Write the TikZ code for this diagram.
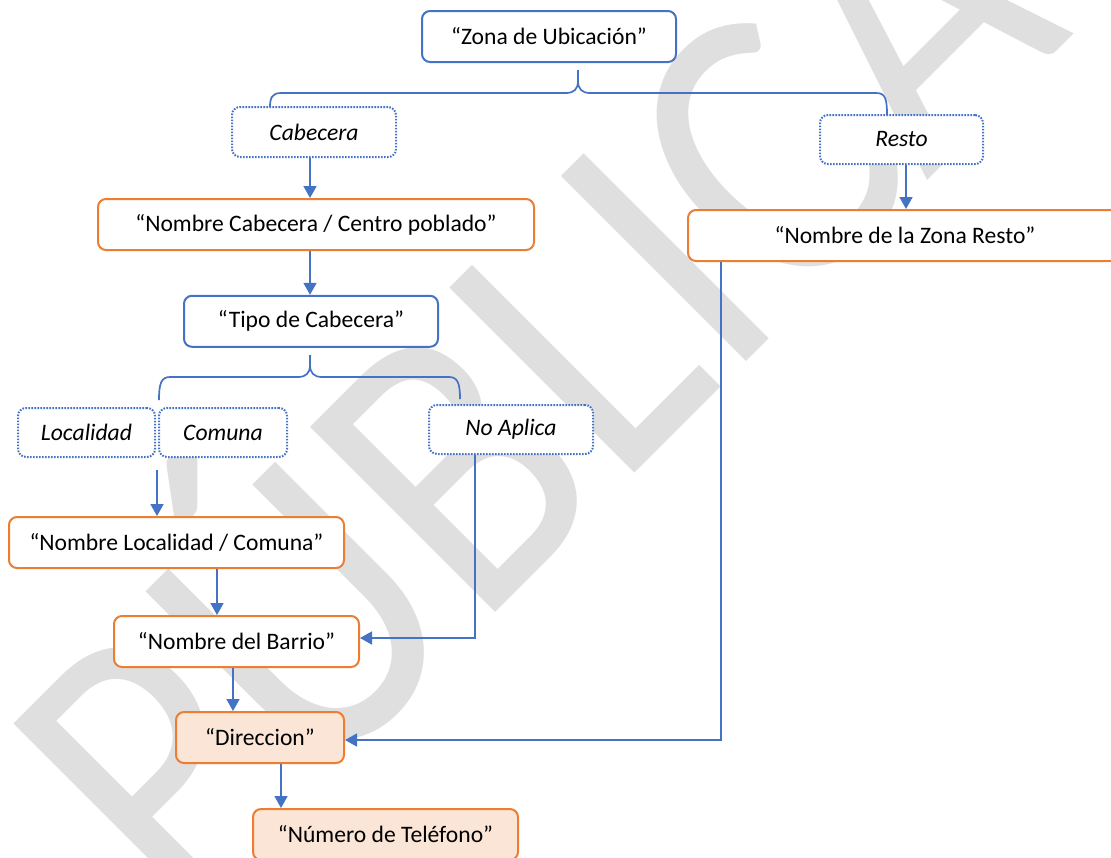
\documentclass[tikz,border=0pt]{standalone}
\usepackage{fontspec}
\setmainfont{Carlito}
\usetikzlibrary{arrows.meta,calc}
\definecolor{bblue}{HTML}{4472C4}
\definecolor{borange}{HTML}{ED7D31}
\definecolor{peach}{HTML}{FBE5D6}
\definecolor{wmgray}{RGB}{223,223,223}
\begin{document}
\begin{tikzpicture}[x=0.5pt,y=-0.5pt,
  box/.style={draw, line width=1pt, rounded corners=4pt, fill=white, inner sep=0pt, align=center, font=\fontsize{11.8}{14}\selectfont},
  blbox/.style={box, draw=bblue},
  orbox/.style={box, draw=borange},
  pebox/.style={box, draw=borange, fill=peach},
  dotbox/.style={box, draw=bblue, dash pattern=on 0.8pt off 0.7pt, font=\fontsize{11.8}{14}\selectfont\itshape},
  conn/.style={draw=bblue, line width=0.85pt},
  arr/.style={conn, -{Triangle[length=6pt,width=6.5pt]}},
  wm/.style={rotate=45, anchor=base west, inner sep=0pt, text=wmgray, font=\fontsize{204}{204}\selectfont}
]
\path[use as bounding box] (0,0) rectangle (1111,857);
\clip (0,0) rectangle (1111,857);

% watermark
\node[wm] (wmark) at (180,928) {\scalebox{0.89}[1]{PÚBLICA}};

% nodes
\node[blbox, minimum width=127pt, minimum height=25.5pt] (zona) at (549,36.5) {“Zona de Ubicación”};
\node[dotbox, minimum width=82pt, minimum height=25pt] (cab) at (314,132) {Cabecera};
\node[dotbox, minimum width=81.5pt, minimum height=24.5pt] (resto) at (901.5,139.5) {Resto};
\node[orbox, minimum width=218pt, minimum height=25.5pt] (ncab) at (316,224.5) {“Nombre Cabecera / Centro poblado”};
\node[orbox, minimum width=217pt, minimum height=25.5pt] (nresto) at (905,235.5) {“Nombre de la Zona Resto”};
\node[blbox, minimum width=127pt, minimum height=25.5pt] (tipo) at (311,321.3) {“Tipo de Cabecera”};
\node[dotbox, minimum width=68.5pt, minimum height=24.5pt] (loc) at (86.5,432.5) {Localidad};
\node[dotbox, minimum width=64pt, minimum height=24.5pt] (com) at (223,432.5) {Comuna};
\node[dotbox, minimum width=82pt, minimum height=24.5pt] (noap) at (511,429.5) {No Aplica};
\node[orbox, minimum width=167.5pt, minimum height=25.5pt] (nloc) at (176.5,542.5) {“Nombre Localidad / Comuna”};
\node[orbox, minimum width=122.5pt, minimum height=25.5pt] (barrio) at (236.5,641.5) {“Nombre del Barrio”};
\node[pebox, minimum width=84pt, minimum height=25.5pt] (dir) at (260,737.5) {“Direccion”};
\node[pebox, minimum width=132.5pt, minimum height=25.5pt] (tel) at (385.5,834.5) {“Número de Teléfono”};

% brace 1
\coordinate (b1t) at (578,70);
\coordinate (b1l) at (270,107);
\coordinate (b1r) at (887,115);
\draw[conn] (b1l) .. controls (270,98) and (272,93) .. (281,93) -- (566,93)
  .. controls (574,93) and (578,89) .. (578,81) -- (b1t);
\draw[conn] (b1r) .. controls (887,98) and (885,93) .. (876,93) -- (590,93)
  .. controls (582,93) and (578,89) .. (578,81) -- (b1t);

% brace 2
\coordinate (b2t) at (310,355);
\coordinate (b2l) at (159,400);
\coordinate (b2r) at (460,399);
\draw[conn] (b2l) .. controls (159,384) and (161,377) .. (170,377) -- (298,377)
  .. controls (306,377) and (310,373) .. (310,365) -- (b2t);
\draw[conn] (b2r) .. controls (460,384) and (458,377) .. (449,377) -- (322,377)
  .. controls (314,377) and (310,373) .. (310,365) -- (b2t);

% arrows
\coordinate (xa) at (310,0);
\draw[arr] (cab.south -| xa) -- (ncab.north -| xa);
\draw[arr] (ncab.south -| xa) -- (tipo.north -| xa);
\coordinate (xb) at (906,0);
\draw[arr] (resto.south -| xb) -- (nresto.north -| xb);
\coordinate (locs) at (157,470);
\draw[arr] (locs) -- (nloc.north -| locs);
\coordinate (xc) at (217,0);
\draw[arr] (nloc.south -| xc) -- (barrio.north -| xc);
\coordinate (xd) at (233,0);
\draw[arr] (barrio.south -| xd) -- (dir.north -| xd);
\coordinate (xe) at (281,0);
\draw[arr] (dir.south -| xe) -- (tel.north -| xe);
\coordinate (na) at (475,638);
\draw[arr] (noap.south -| na) -- (na) -- (barrio.east |- na);
\coordinate (ra) at (721,740);
\draw[arr] (nresto.south -| ra) -- (ra) -- (dir.east |- ra);
\end{tikzpicture}
\end{document}
